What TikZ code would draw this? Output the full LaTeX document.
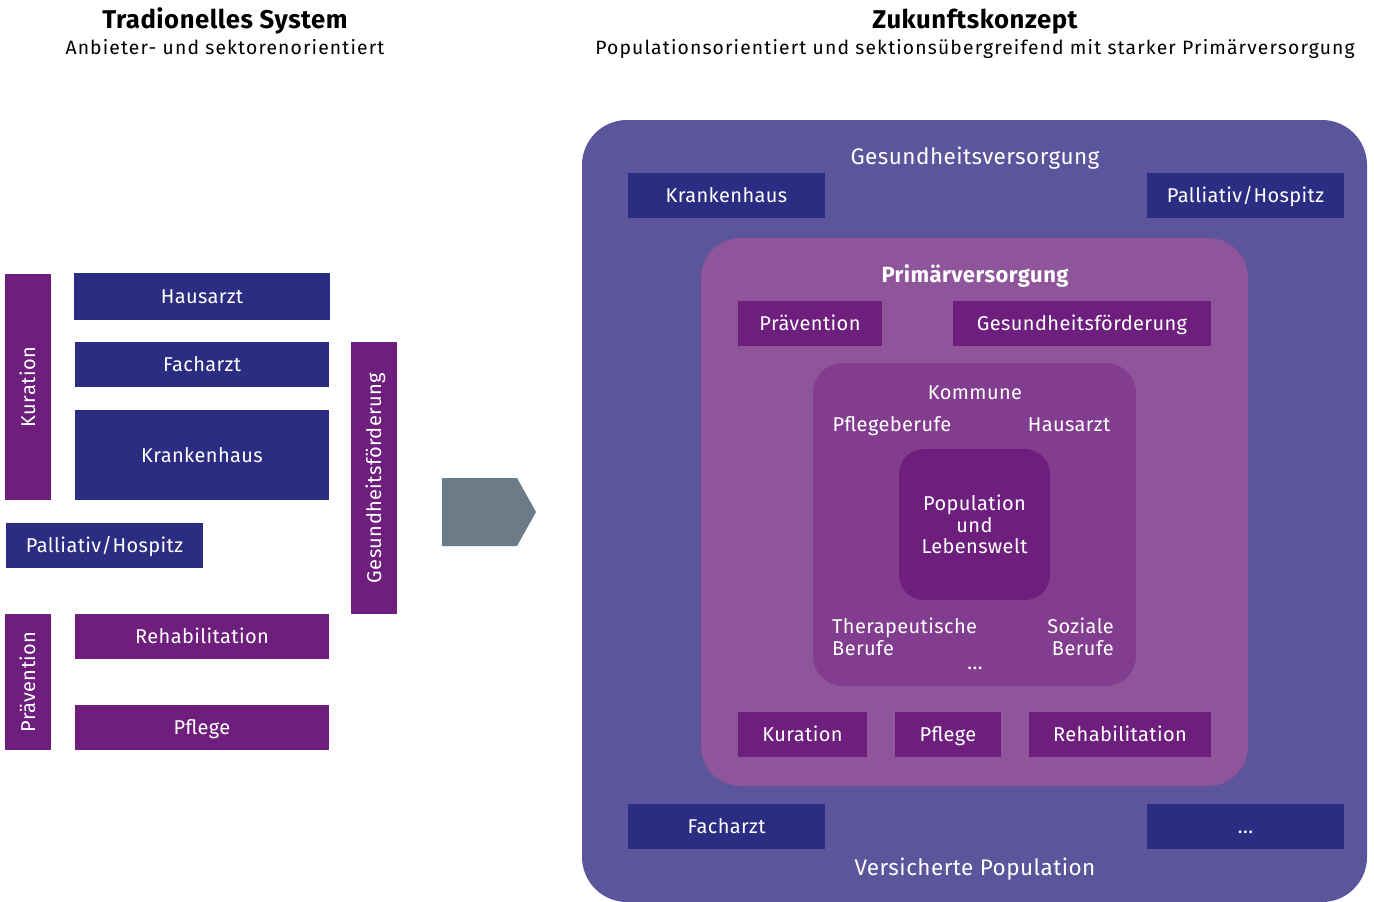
\documentclass[tikz,border=0pt]{standalone}
\usepackage{fontspec}
\setmainfont[LetterSpace=2]{Fira Sans}
\newfontfamily\weitschrift[LetterSpace=6]{Fira Sans}
\definecolor{dunkelblau}{HTML}{2B2D82}
\definecolor{lila}{HTML}{6E1F7E}
\definecolor{aussen}{HTML}{5C559C}
\definecolor{primaer}{HTML}{8F559B}
\definecolor{kommune}{HTML}{833D8F}
\definecolor{pfeil}{HTML}{6B7B88}
\tikzset{
  grundschrift/.style={text=white, inner sep=0pt, font=\fontsize{20}{21.5}\selectfont},
  schrift/.style={grundschrift, text height=14pt, text depth=0pt},
  gross/.style={schrift, font=\fontsize{22.5}{26}\selectfont, text height=15.5pt},
  kasten/.style={schrift, fill=dunkelblau, minimum height=45pt},
  lilakasten/.style={kasten, fill=lila},
  senkrecht/.style={lilakasten, rotate=90, minimum height=46pt},
  titel/.style={inner sep=0pt, font=\fontsize{25.7}{30}\selectfont\bfseries, text height=17.7pt, text depth=0pt},
  untertitel/.style={inner sep=0pt, font=\fontsize{19.3}{23}\selectfont\weitschrift, text height=13.3pt, text depth=0pt},
}
\begin{document}
\begin{tikzpicture}[x=1pt, y=-1pt]
\useasboundingbox (0,0) rectangle (1374,902);
% links: traditionelles System
\node[titel] (t1) at (225,20) {Tradionelles System};
\node[untertitel] (u1) at (225,48) {Anbieter- und sektorenorientiert};
\node[senkrecht, minimum width=226pt] (kur1) at (28,387) {Kuration};
\node[kasten, minimum width=256pt, minimum height=47pt] (haus1) at (202,296.5) {Hausarzt};
\node[kasten, minimum width=254pt] (fach1) at (202,364.5) {Facharzt};
\node[kasten, minimum width=254pt, minimum height=90pt] (kh1) at (202,455) {Krankenhaus};
\node[kasten, minimum width=197pt] (pall1) at (104.5,545.5) {Palliativ/Hospitz};
\node[senkrecht, minimum width=272pt] (gf1) at (374,478) {Gesundheitsförderung};
\node[senkrecht, minimum width=136pt] (prae1) at (28,682) {Prävention};
\node[lilakasten, minimum width=254pt] (reha1) at (202,636.5) {Rehabilitation};
\node[lilakasten, minimum width=254pt] (pfl1) at (202,727.5) {Pflege};
% Pfeil
\fill[pfeil] (442,478) -- (517,478) -- (536,512) -- (517,546) -- (442,546) -- cycle;
% rechts: Zukunftskonzept
\node[titel] (t2) at (975,20) {Zukunftskonzept};
\node[untertitel] (u2) at (975,48) {Populationsorientiert und sektionsübergreifend mit starker Primärversorgung};
\fill[aussen, rounded corners=45pt] (582,120) rectangle (1367,902);
\node[gross] (gv) at (975,157) {Gesundheitsversorgung};
\node[kasten, minimum width=197pt] (kh2) at (726.5,195.5) {Krankenhaus};
\node[kasten, minimum width=197pt] (pall2) at (1245.5,195.5) {Palliativ/Hospitz};
\fill[primaer, rounded corners=40pt] (701,238) rectangle (1248,786);
\node[gross, font=\fontsize{22}{26}\selectfont\bfseries] (pv) at (975,275) {Primärversorgung};
\node[lilakasten, minimum width=144pt] (prae2) at (810,323.5) {Prävention};
\node[lilakasten, minimum width=258pt] (gf2) at (1082,323.5) {Gesundheitsförderung};
\fill[kommune, rounded corners=30pt] (813,363) rectangle (1136,686);
\node[schrift] (kom) at (975,392) {Kommune};
\node[schrift] (pb) at (892,424) {Pflegeberufe};
\node[schrift] (ha) at (1069,424) {Hausarzt};
\node[grundschrift, fill=lila, rounded corners=25pt, minimum width=151pt, minimum height=151pt, align=center] (pop) at (974.5,524.5) {Population\\und\\Lebenswelt};
\node[grundschrift, align=left, anchor=west] (tb) at (832,637) {Therapeutische\\Berufe};
\node[grundschrift, align=right, anchor=east] (sb) at (1114,637) {Soziale\\Berufe};
\node[schrift] (pkt1) at (975,662) {...};
\node[lilakasten, minimum width=129pt] (kur2) at (802.5,734.5) {Kuration};
\node[lilakasten, minimum width=106pt] (pfl2) at (948,734.5) {Pflege};
\node[lilakasten, minimum width=182pt] (reha2) at (1120,734.5) {Rehabilitation};
\node[kasten, minimum width=197pt] (fach2) at (726.5,826.5) {Facharzt};
\node[kasten, minimum width=197pt] (pkt2) at (1245.5,826.5) {...};
\node[gross] (vp) at (975,868) {Versicherte Population};
\end{tikzpicture}
\end{document}
